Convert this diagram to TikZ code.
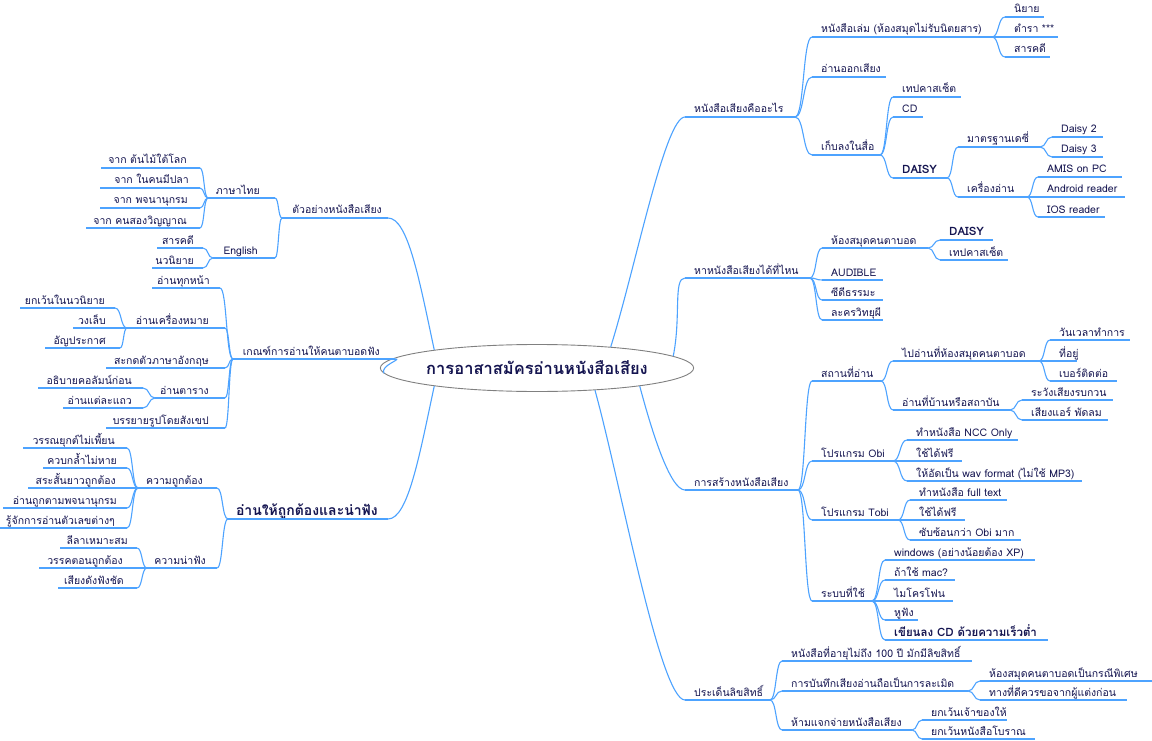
\documentclass[tikz,border=0pt]{standalone}
\usepackage{fontspec}
\usetikzlibrary{calc,shapes.geometric}
\newfontfamily\thai[Script=Thai]{Loma}
\definecolor{txtc}{RGB}{20,20,80}
\definecolor{linec}{RGB}{77,163,255}
\tikzset{
 txt/.style={font=\thai\fontsize{10.5}{12}\selectfont, text=txtc, inner sep=0pt},
 bnode/.style={font=\thai\bfseries\fontsize{11.5}{13}\selectfont},
 bignode/.style={font=\thai\bfseries\fontsize{14}{16}\selectfont},
 ln/.style={draw=linec, line width=1.1pt},
}
% right-side node: name, x1, x2, y, text
\newcommand\RN[6][]{%
  \coordinate (#2-l) at (#3,#5);
  \coordinate (#2-r) at (#4,#5);
  \node[txt,anchor=base west,#1] (#2) at ({#3+9},{#5-4}) {#6};
  \draw[ln] (#2-l) -- (#2-r);}
% left-side node: name, x1, x2, y, text end x, text
\newcommand\LN[7][]{%
  \coordinate (#2-l) at (#3,#5);
  \coordinate (#2-r) at (#4,#5);
  \node[txt,anchor=base east,#1] (#2) at ({#6},{#5-4}) {#7};
  \draw[ln] (#2-l) -- (#2-r);}
\newcommand\RC[2]{\draw[ln] let \p1=(#1-r), \p2=(#2-l), \n1={(\x2-\x1)*0.55}, \n2={-(\x2-\x1)*0.55} in (#1-r) .. controls +(\n1,0) and +(\n2,0) .. (#2-l);}
\newcommand\LC[2]{\draw[ln] let \p1=(#1-l), \p2=(#2-r), \n1={(\x2-\x1)*0.55}, \n2={-(\x2-\x1)*0.55} in (#1-l) .. controls +(\n1,0) and +(\n2,0) .. (#2-r);}
\begin{document}
\begin{tikzpicture}[x=1pt,y=-1pt]
\fill[white] (0,0) rectangle (1152,741);
\useasboundingbox (0,0) rectangle (1152,741);

\node[ellipse, draw={rgb,255:red,128;green,128;blue,128}, line width=0.9pt, fill=white,
  minimum width=263, minimum height=47, inner sep=0pt, text=txtc,
  font=\thai\bfseries\fontsize{16.5}{18}\selectfont] (c) at (537,368) {การอาสาสมัครอ่านหนังสือเสียง};

% ---------- right: branch 1
\RN{R1}{685}{795}{117}{หนังสือเสียงคืออะไร}
\RN{a1}{812}{992}{37}{หนังสือเล่ม (ห้องสมุดไม่รับนิตยสาร)}
\RN{a11}{1005}{1044}{17}{นิยาย}
\RN{a12}{1005}{1058}{37}{ตำรา ***}
\RN{a13}{1005}{1050}{57}{สารคดี}
\RN{a2}{812}{886}{77}{อ่านออกเสียง}
\RN{a3}{812}{880}{155}{เก็บลงในสื่อ}
\RN{a31}{893}{961}{97}{เทปคาสเซ็ต}
\RN{a32}{893}{923}{117}{CD}
\RN[bnode]{a33}{893}{947}{178}{DAISY}
\RN{a331}{958}{1040}{147}{มาตรฐานเดซี่}
\RN{a3311}{1052}{1103}{137}{Daisy 2}
\RN{a3312}{1052}{1103}{157}{Daisy 3}
\RN{a332}{958}{1027}{197}{เครื่องอ่าน}
\RN{a3321}{1038}{1122}{177}{AMIS on PC}
\RN{a3322}{1038}{1125}{197}{Android reader}
\RN{a3323}{1038}{1105}{217}{IOS reader}
\RC{R1}{a1} \RC{R1}{a2} \RC{R1}{a3}
\RC{a1}{a11} \RC{a1}{a12} \RC{a1}{a13}
\RC{a3}{a31} \RC{a3}{a32} \RC{a3}{a33}
\RC{a33}{a331} \RC{a33}{a332}
\RC{a331}{a3311} \RC{a331}{a3312}
\RC{a332}{a3321} \RC{a332}{a3322} \RC{a332}{a3323}

% ---------- right: branch 2
\RN{R2}{685}{810}{278}{หาหนังสือเสียงได้ที่ไหน}
\RN{b1}{822}{928}{248}{ห้องสมุดคนตาบอด}
\RN[bnode]{b11}{940}{993}{240}{DAISY}
\RN{b12}{940}{1008}{260}{เทปคาสเซ็ต}
\RN{b2}{822}{883}{280}{AUDIBLE}
\RN{b3}{822}{883}{300}{ซีดีธรรมะ}
\RN{b4}{822}{883}{320}{ละครวิทยุผี}
\RC{R2}{b1} \RC{R2}{b2} \RC{R2}{b3} \RC{R2}{b4}
\RC{b1}{b11} \RC{b1}{b12}

% ---------- right: branch 3
\RN{R3}{685}{798}{490}{การสร้างหนังสือเสียง}
\RN{c1}{812}{881}{381}{สถานที่อ่าน}
\RN{c11}{893}{1039}{361}{ไปอ่านที่ห้องสมุดคนตาบอด}
\RN{c111}{1050}{1130}{340}{วันเวลาทำการ}
\RN{c112}{1050}{1077}{361}{ที่อยู่}
\RN{c113}{1050}{1117}{381}{เบอร์ติดต่อ}
\RN{c12}{893}{1010}{410}{อ่านที่บ้านหรือสถาบัน}
\RN{c121}{1022}{1113}{400}{ระวังเสียงรบกวน}
\RN{c122}{1022}{1108}{420}{เสียงแอร์ พัดลม}
\RN{c2}{812}{893}{461}{โปรแกรม Obi}
\RN{c21}{907}{1018}{440}{ทำหนังสือ NCC Only}
\RN{c22}{907}{962}{461}{ใช้ได้ฟรี}
\RN{c23}{907}{1082}{481}{ให้อัดเป็น wav format (ไม่ใช้ MP3)}
\RN{c3}{812}{898}{520}{โปรแกรม Tobi}
\RN{c31}{910}{1007}{500}{ทำหนังสือ full text}
\RN{c32}{910}{965}{520}{ใช้ได้ฟรี}
\RN{c33}{910}{1021}{540}{ซับซ้อนกว่า Obi มาก}
\RN{c4}{812}{872}{601}{ระบบที่ใช้}
\RN{c41}{885}{1035}{560}{windows (อย่างน้อยต้อง XP)}
\RN{c42}{885}{955}{580}{ถ้าใช้ mac?}
\RN{c43}{885}{953}{601}{ไมโครโฟน}
\RN{c44}{885}{918}{620}{หูฟัง}
\RN[bnode]{c45}{885}{1048}{640}{เขียนลง CD ด้วยความเร็วต่ำ}
\RC{R3}{c1} \RC{R3}{c2} \RC{R3}{c3} \RC{R3}{c4}
\RC{c1}{c11} \RC{c1}{c12}
\RC{c11}{c111} \RC{c11}{c112} \RC{c11}{c113}
\RC{c12}{c121} \RC{c12}{c122}
\RC{c2}{c21} \RC{c2}{c22} \RC{c2}{c23}
\RC{c3}{c31} \RC{c3}{c32} \RC{c3}{c33}
\RC{c4}{c41} \RC{c4}{c42} \RC{c4}{c43} \RC{c4}{c44} \RC{c4}{c45}

% ---------- right: branch 4
\RN{R4}{685}{770}{700}{ประเด็นลิขสิทธิ์}
\RN{d1}{782}{972}{661}{หนังสือที่อายุไม่ถึง 100 ปี มักมีลิขสิทธิ์}
\RN{d2}{782}{968}{691}{การบันทึกเสียงอ่านถือเป็นการละเมิด}
\RN{d21}{980}{1152}{681}{ห้องสมุดคนตาบอดเป็นกรณีพิเศษ}
\RN{d22}{980}{1127}{700}{ทางที่ดีควรขอจากผู้แต่งก่อน}
\RN{d3}{782}{912}{730}{ห้ามแจกจ่ายหนังสือเสียง}
\RN{d31}{922}{1007}{720}{ยกเว้นเจ้าของให้}
\RN{d32}{922}{1035}{739}{ยกเว้นหนังสือโบราณ}
\RC{R4}{d1} \RC{R4}{d2} \RC{R4}{d3}
\RC{d2}{d21} \RC{d2}{d22}
\RC{d3}{d31} \RC{d3}{d32}

% ---------- left: branch 1
\LN{L1}{282}{388}{218}{382}{ตัวอย่างหนังสือเสียง}
\LN{e1}{208}{275}{198}{260}{ภาษาไทย}
\LN{e11}{101}{200}{168}{187}{จาก ต้นไม้ใต้โลก}
\LN{e12}{100}{200}{188}{189}{จาก ในคนมีปลา}
\LN{e13}{100}{200}{208}{188}{จาก พจนานุกรม}
\LN{e14}{86}{200}{228}{187}{จาก คนสองวิญญาณ}
\LN{e2}{213}{275}{258}{258}{English}
\LN{e21}{157}{203}{248}{194}{สารคดี}
\LN{e22}{152}{203}{268}{194}{นวนิยาย}
\LC{L1}{e1} \LC{L1}{e2}
\LC{e1}{e11} \LC{e1}{e12} \LC{e1}{e13} \LC{e1}{e14}
\LC{e2}{e21} \LC{e2}{e22}

% ---------- left: branch 2
\LN{L2}{233}{395}{359}{380}{เกณฑ์การอ่านให้คนตาบอดฟัง}
\LN{f1}{152}{220}{288}{210}{อ่านทุกหน้า}
\LN{f2}{127}{225}{328}{209}{อ่านเครื่องหมาย}
\LN{f21}{20}{115}{308}{105}{ยกเว้นในนวนิยาย}
\LN{f22}{73}{120}{328}{106}{วงเล็บ}
\LN{f23}{45}{120}{348}{106}{อัญประกาศ}
\LN{f3}{106}{225}{368}{209}{สะกดตัวภาษาอังกฤษ}
\LN{f4}{155}{225}{398}{209}{อ่านตาราง}
\LN{f41}{38}{143}{388}{132}{อธิบายคอลัมน์ก่อน}
\LN{f42}{63}{143}{408}{132}{อ่านแต่ละแถว}
\LN{f5}{106}{225}{428}{209}{บรรยายรูปโดยสังเขป}
\LC{L2}{f1} \LC{L2}{f2} \LC{L2}{f3} \LC{L2}{f4} \LC{L2}{f5}
\LC{f2}{f21} \LC{f2}{f22} \LC{f2}{f23}
\LC{f4}{f41} \LC{f4}{f42}

% ---------- left: branch 3
\LN[bignode]{L3}{228}{388}{519}{378}{อ่านให้ถูกต้องและน่าฟัง}
\LN{g1}{138}{217}{488}{203}{ความถูกต้อง}
\LN{g11}{23}{127}{448}{115}{วรรณยุกต์ไม่เพี้ยน}
\LN{g12}{43}{127}{468}{117}{ควบกล้ำไม่หาย}
\LN{g13}{28}{127}{488}{116}{สระสั้นยาวถูกต้อง}
\LN{g14}{3}{127}{508}{117}{อ่านถูกตามพจนานุกรม}
\LN{g15}{0}{127}{528}{115}{รู้จักการอ่านตัวเลขต่างๆ}
\LN{g2}{147}{217}{568}{206}{ความน่าฟัง}
\LN{g21}{60}{137}{548}{128}{ลีลาเหมาะสม}
\LN{g22}{39}{137}{568}{123}{วรรคตอนถูกต้อง}
\LN{g23}{58}{137}{588}{124}{เสียงดังฟังชัด}
\LC{L3}{g1} \LC{L3}{g2}
\LC{g1}{g11} \LC{g1}{g12} \LC{g1}{g13} \LC{g1}{g14} \LC{g1}{g15}
\LC{g2}{g21} \LC{g2}{g22} \LC{g2}{g23}

% ---------- centre connectors
\draw[ln] (c.16) .. controls +(25,-80) and +(-20,0) .. (R1-l);
\draw[ln] (c.5) .. controls +(8,-40) and +(-12,0) .. (R2-l);
\draw[ln] (c.-10) .. controls +(12,45) and +(-15,0) .. (R3-l);
\draw[ln] (c.-21) .. controls +(25,90) and +(-25,0) .. (R4-l);
\draw[ln] (c.170) .. controls +(-15,-70) and +(20,0) .. (L1-r);
\draw[ln] (c.182) .. controls +(-4,-8) and +(8,0) .. (L2-r);
\draw[ln] (c.190) .. controls +(-15,70) and +(20,0) .. (L3-r);
\end{tikzpicture}
\end{document}
